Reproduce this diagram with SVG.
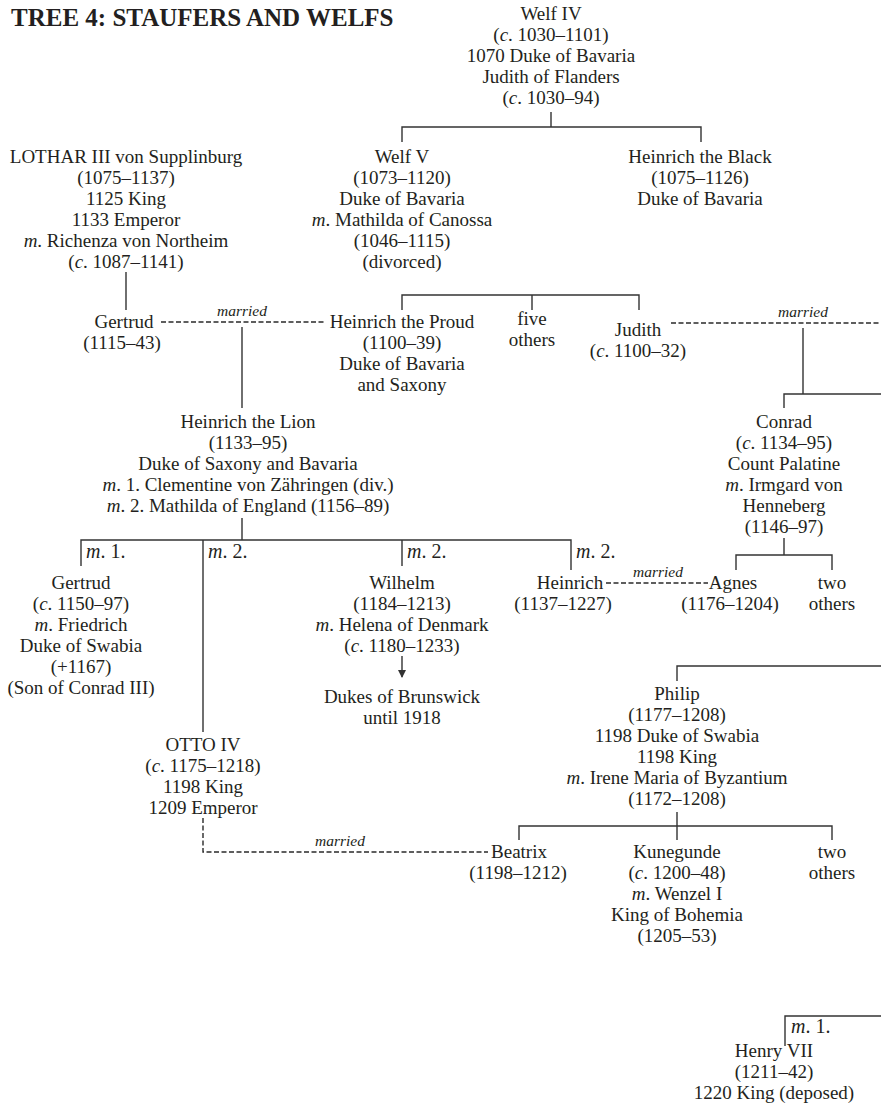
<svg xmlns="http://www.w3.org/2000/svg" width="881" height="1114" viewBox="0 0 881 1114">
  <style>
    text { font-family: "Liberation Serif", "Times New Roman", serif; font-size: 19px; fill: #231f20; }
    .n text, text.n { text-anchor: middle; }
    .title { font-size: 25px; font-weight: bold; text-anchor: start; }
    .i { font-style: italic; }
    .mar { font-style: italic; font-size: 15.5px; text-anchor: middle; }
    .lbl { font-size: 20px; text-anchor: start; }
    .ln { stroke: #333; stroke-width: 1.4; fill: none; }
    .dash { stroke: #2a2a2a; stroke-width: 1.4; fill: none; stroke-dasharray: 5 2.5; }
  </style>
  <defs>
    <marker id="arrow" viewBox="0 0 8 10" refX="7" refY="5" markerWidth="8" markerHeight="10" markerUnits="userSpaceOnUse" orient="auto">
      <path d="M0,1 L8,5 L0,9 Z" fill="#333"/>
    </marker>
  </defs>
  <rect width="881" height="1114" fill="#fff"/>

  <text class="title" x="11" y="26">TREE 4: STAUFERS AND WELFS</text>

  <!-- connectors -->
  <g id="connectors">
    <!-- Welf IV to children -->
    <path class="ln" d="M551,112 V127 M402,142 V127 H701 V142"/>
    <!-- Lothar to Gertrud -->
    <path class="ln" d="M126,272 V310"/>
    <!-- Welf V children bar -->
    <path class="ln" d="M402,310 V295 H639 V310 M532,295 V310"/>
    <!-- Gertrud married Heinrich the Proud -->
    <path class="dash" d="M161,322 H326"/>
    <path class="ln" d="M242,327 V408"/>
    <!-- Judith married (off right) -->
    <path class="dash" d="M671,323 H881"/>
    <path class="ln" d="M803,328 V394 M784,408 V394 H881"/>
    <!-- Conrad children -->
    <path class="ln" d="M784,538 V555 M736,570 V555 H832 V570"/>
    <!-- Heinrich the Lion children -->
    <path class="ln" d="M242,518 V540 M81,566 V540 H571 V570 M203,540 V732 M402,540 V566"/>
    <!-- Wilhelm descendants -->
    <path class="ln" d="M402,656 V677" marker-end="url(#arrow)"/>
    <!-- Heinrich married Agnes -->
    <path class="dash" d="M606,583 H708"/>
    <!-- Philip -->
    <path class="ln" d="M677,681 V666 H881"/>
    <path class="ln" d="M677,812 V840 M519,840 V826 H832 V840"/>
    <!-- Otto IV married Beatrix -->
    <path class="dash" d="M203,818 V852 H488"/>
    <!-- Henry VII -->
    <path class="ln" d="M785,1046 V1016 H881"/>
  </g>

  <!-- married labels -->
  <g id="marriage-labels">
    <text class="mar" x="242" y="316">married</text>
    <text class="mar" x="803" y="317">married</text>
    <text class="mar" x="658" y="577">married</text>
    <text class="mar" x="340" y="846">married</text>
  </g>

  <!-- branch labels -->
  <g id="branch-labels">
    <text class="lbl" x="86" y="558"><tspan class="i">m</tspan>. 1.</text>
    <text class="lbl" x="208" y="558"><tspan class="i">m</tspan>. 2.</text>
    <text class="lbl" x="407" y="558"><tspan class="i">m</tspan>. 2.</text>
    <text class="lbl" x="576" y="558"><tspan class="i">m</tspan>. 2.</text>
    <text class="lbl" x="791" y="1033"><tspan class="i">m</tspan>. 1.</text>
  </g>

  <g id="welf-iv" class="n">
    <text x="551" y="20">Welf IV</text>
    <text x="551" y="41">(<tspan class="i">c</tspan>. 1030–1101)</text>
    <text x="551" y="62">1070 Duke of Bavaria</text>
    <text x="551" y="83">Judith of Flanders</text>
    <text x="551" y="104">(<tspan class="i">c</tspan>. 1030–94)</text>
  </g>

  <g id="lothar-iii" class="n">
    <text x="126" y="163">LOTHAR III von Supplinburg</text>
    <text x="126" y="184">(1075–1137)</text>
    <text x="126" y="205">1125 King</text>
    <text x="126" y="226">1133 Emperor</text>
    <text x="126" y="247"><tspan class="i">m</tspan>. Richenza von Northeim</text>
    <text x="126" y="268">(<tspan class="i">c</tspan>. 1087–1141)</text>
  </g>

  <g id="welf-v" class="n">
    <text x="402" y="163">Welf V</text>
    <text x="402" y="184">(1073–1120)</text>
    <text x="402" y="205">Duke of Bavaria</text>
    <text x="402" y="226"><tspan class="i">m</tspan>. Mathilda of Canossa</text>
    <text x="402" y="247">(1046–1115)</text>
    <text x="402" y="268">(divorced)</text>
  </g>

  <g id="heinrich-the-black" class="n">
    <text x="700" y="163">Heinrich the Black</text>
    <text x="700" y="184">(1075–1126)</text>
    <text x="700" y="205">Duke of Bavaria</text>
  </g>

  <g id="gertrud-1115" class="n">
    <text x="124" y="328">Gertrud</text>
    <text x="122" y="349">(1115–43)</text>
  </g>

  <g id="heinrich-the-proud" class="n">
    <text x="402" y="328">Heinrich the Proud</text>
    <text x="402" y="349">(1100–39)</text>
    <text x="402" y="370">Duke of Bavaria</text>
    <text x="402" y="391">and Saxony</text>
  </g>

  <g id="five-others" class="n">
    <text x="532" y="325">five</text>
    <text x="532" y="346">others</text>
  </g>

  <g id="judith" class="n">
    <text x="638" y="336">Judith</text>
    <text x="638" y="357">(<tspan class="i">c</tspan>. 1100–32)</text>
  </g>

  <g id="conrad" class="n">
    <text x="784" y="428">Conrad</text>
    <text x="784" y="449">(<tspan class="i">c</tspan>. 1134–95)</text>
    <text x="784" y="470">Count Palatine</text>
    <text x="784" y="491"><tspan class="i">m</tspan>. Irmgard von</text>
    <text x="784" y="512">Henneberg</text>
    <text x="784" y="533">(1146–97)</text>
  </g>

  <g id="heinrich-the-lion" class="n">
    <text x="248" y="428">Heinrich the Lion</text>
    <text x="248" y="449">(1133–95)</text>
    <text x="248" y="470">Duke of Saxony and Bavaria</text>
    <text x="248" y="491"><tspan class="i">m</tspan>. 1. Clementine von Zähringen (div.)</text>
    <text x="248" y="512"><tspan class="i">m</tspan>. 2. Mathilda of England (1156–89)</text>
  </g>

  <g id="gertrud-1150" class="n">
    <text x="81" y="589">Gertrud</text>
    <text x="81" y="610">(<tspan class="i">c</tspan>. 1150–97)</text>
    <text x="81" y="631"><tspan class="i">m</tspan>. Friedrich</text>
    <text x="81" y="652">Duke of Swabia</text>
    <text x="81" y="673">(+1167)</text>
    <text x="81" y="694">(Son of Conrad III)</text>
  </g>

  <g id="wilhelm" class="n">
    <text x="402" y="589">Wilhelm</text>
    <text x="402" y="610">(1184–1213)</text>
    <text x="402" y="631"><tspan class="i">m</tspan>. Helena of Denmark</text>
    <text x="402" y="652">(<tspan class="i">c</tspan>. 1180–1233)</text>
  </g>

  <g id="dukes-of-brunswick" class="n">
    <text x="402" y="703">Dukes of Brunswick</text>
    <text x="402" y="724">until 1918</text>
  </g>

  <g id="heinrich" class="n">
    <text x="570" y="589">Heinrich</text>
    <text x="563" y="610">(1137–1227)</text>
  </g>

  <g id="agnes" class="n">
    <text x="733" y="589">Agnes</text>
    <text x="730" y="610">(1176–1204)</text>
  </g>

  <g id="two-others-conrad" class="n">
    <text x="832" y="589">two</text>
    <text x="832" y="610">others</text>
  </g>

  <g id="otto-iv" class="n">
    <text x="203" y="751">OTTO IV</text>
    <text x="203" y="772">(<tspan class="i">c</tspan>. 1175–1218)</text>
    <text x="203" y="793">1198 King</text>
    <text x="203" y="814">1209 Emperor</text>
  </g>

  <g id="philip" class="n">
    <text x="677" y="700">Philip</text>
    <text x="677" y="721">(1177–1208)</text>
    <text x="677" y="742">1198 Duke of Swabia</text>
    <text x="677" y="763">1198 King</text>
    <text x="677" y="784"><tspan class="i">m</tspan>. Irene Maria of Byzantium</text>
    <text x="677" y="805">(1172–1208)</text>
  </g>

  <g id="beatrix" class="n">
    <text x="519" y="858">Beatrix</text>
    <text x="518" y="879">(1198–1212)</text>
  </g>

  <g id="kunegunde" class="n">
    <text x="677" y="858">Kunegunde</text>
    <text x="677" y="879">(<tspan class="i">c</tspan>. 1200–48)</text>
    <text x="677" y="900"><tspan class="i">m</tspan>. Wenzel I</text>
    <text x="677" y="921">King of Bohemia</text>
    <text x="677" y="942">(1205–53)</text>
  </g>

  <g id="two-others-philip" class="n">
    <text x="832" y="858">two</text>
    <text x="832" y="879">others</text>
  </g>

  <g id="henry-vii" class="n">
    <text x="774" y="1057">Henry VII</text>
    <text x="774" y="1078">(1211–42)</text>
    <text x="774" y="1099">1220 King (deposed)</text>
  </g>
</svg>
